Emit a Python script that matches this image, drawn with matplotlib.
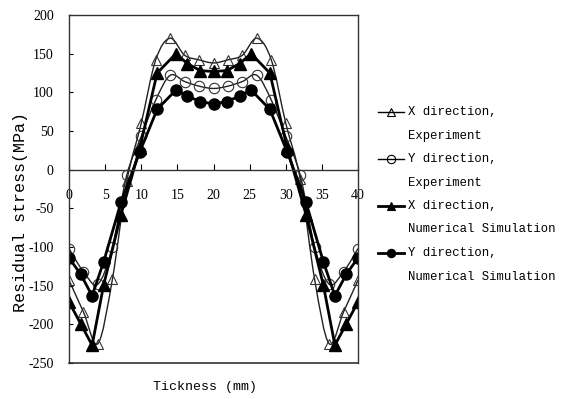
import numpy as np
import matplotlib
matplotlib.use('Agg')
import matplotlib.pyplot as plt
from matplotlib.path import Path
from matplotlib.patches import PathPatch
from matplotlib.lines import Line2D

plt.rcParams['axes.unicode_minus'] = False
num_font = 'Liberation Serif'
txt_font = 'Liberation Mono'

# experiment: measured every 2 mm
exp_x = [0, 2, 4, 6, 8, 10, 12, 14, 16, 18, 20, 22, 24, 26, 28, 30, 32, 34, 36, 38, 40]
x_exp = [-143, -184, -225, -142, -15, 60, 142, 170, 148, 142, 138,
         142, 148, 170, 142, 60, -12, -142, -225, -184, -143]
y_exp = [-102, -132, -148, -100, -7, 43, 90, 122, 114, 108, 105,
         108, 114, 122, 90, 43, -7, -100, -148, -132, -102]

# numerical simulation nodes
sim_x = [0, 1.6, 3.2, 4.8, 7.2, 9.8, 12.2, 14.8, 16.4, 18.2, 20,
         21.8, 23.6, 25.2, 27.8, 30.2, 32.8, 35.2, 36.8, 38.4, 40]
x_sim = [-171, -199, -227, -149, -58, 28, 125, 150, 137, 128, 127,
         128, 137, 150, 125, 28, -58, -149, -227, -199, -171]
y_sim = [-114, -135, -163, -119, -42, 23, 78, 103, 95, 88, 85,
         88, 95, 103, 78, 23, -42, -119, -163, -135, -114]

x_ticks = list(range(0, 41, 5))
y_ticks = list(range(-250, 201, 50))


def smooth_path(xs, ys, k=1/6):
    # excel-like smoothed line: cubic bezier through the points
    p = np.column_stack([xs, ys]).astype(float)
    verts = [p[0]]
    codes = [Path.MOVETO]
    n = len(p)
    for i in range(n - 1):
        a = p[max(i - 1, 0)]
        d = p[min(i + 2, n - 1)]
        c1 = p[i] + (p[i + 1] - a) * k
        c2 = p[i + 1] - (d - p[i]) * k
        verts += [c1, c2, p[i + 1]]
        codes += [Path.CURVE4] * 3
    return Path(verts, codes)


W, H = 564, 399
fig = plt.figure(figsize=(W / 100, H / 100), dpi=100)
ax = fig.add_axes([69 / W, 1 - 363 / H, (358 - 69) / W, (363 - 15) / H])

ax.add_patch(PathPatch(smooth_path(exp_x, x_exp), fill=False, lw=1.0, ec='#222222'))
ax.add_patch(PathPatch(smooth_path(exp_x, y_exp), fill=False, lw=1.0, ec='#222222'))
ax.plot(exp_x, x_exp, ls='none', marker='^', ms=7, mfc='none', mec='#333333', mew=0.8)
ax.plot(exp_x, y_exp, ls='none', marker='o', ms=7.5, mfc='none', mec='#333333', mew=0.8)
ax.plot(sim_x, x_sim, color='black', lw=2, marker='^', ms=8)
ax.plot(sim_x, y_sim, color='black', lw=2, marker='o', ms=8)

ax.set_xlim(0, 40)
ax.set_ylim(-250, 200)
ax.set_xticks(x_ticks)
ax.set_yticks(y_ticks)
ax.spines['bottom'].set_position(('data', 0))
for s in ax.spines.values():
    s.set_linewidth(1.0)
    s.set_color('#333333')
# bottom frame line once the x axis sits on zero
ax.plot([0, 1], [0, 0], transform=ax.transAxes, color='#333333', lw=1.2, clip_on=False)
ax.tick_params(axis='x', direction='in', length=4, pad=14, labelsize=10)
ax.tick_params(axis='y', direction='in', length=3, pad=11, labelsize=10)
for lab in ax.get_xticklabels() + ax.get_yticklabels():
    lab.set_fontfamily(num_font)

fig.text(21 / W, 1 - 212 / H, 'Residual stress(MPa)', rotation=90, ha='center',
         va='center', family=txt_font, fontsize=12)
fig.text(205 / W, 1 - 387 / H, 'Tickness (mm)', ha='center', va='center',
         family=txt_font, fontsize=9.5)

# legend drawn by hand so the handle lines up with the first text line
entries = [
    ('X direction,', 'Experiment', '^', 'none', 1.0),
    ('Y direction,', 'Experiment', 'o', 'none', 1.0),
    ('X direction,', 'Numerical Simulation', '^', 'black', 2.0),
    ('Y direction,', 'Numerical Simulation', 'o', 'black', 2.0),
]
row = 23.5
top = 112
for i, (l1, l2, mk, fc, lw) in enumerate(entries):
    y1 = top + 2 * i * row
    fy1 = 1 - y1 / H
    fy2 = 1 - (y1 + row) / H
    fig.add_artist(Line2D([378 / W, 404 / W], [fy1, fy1], color='black', lw=lw))
    fig.add_artist(Line2D([391 / W], [fy1], marker=mk, ms=6, mfc=fc,
                          mec='black', mew=0.8, ls='none'))
    fig.text(408 / W, fy1, l1, ha='left', va='center', family=txt_font, fontsize=8.8)
    fig.text(408 / W, fy2, l2, ha='left', va='center', family=txt_font, fontsize=8.8)

fig.savefig('out.png', dpi=100)
